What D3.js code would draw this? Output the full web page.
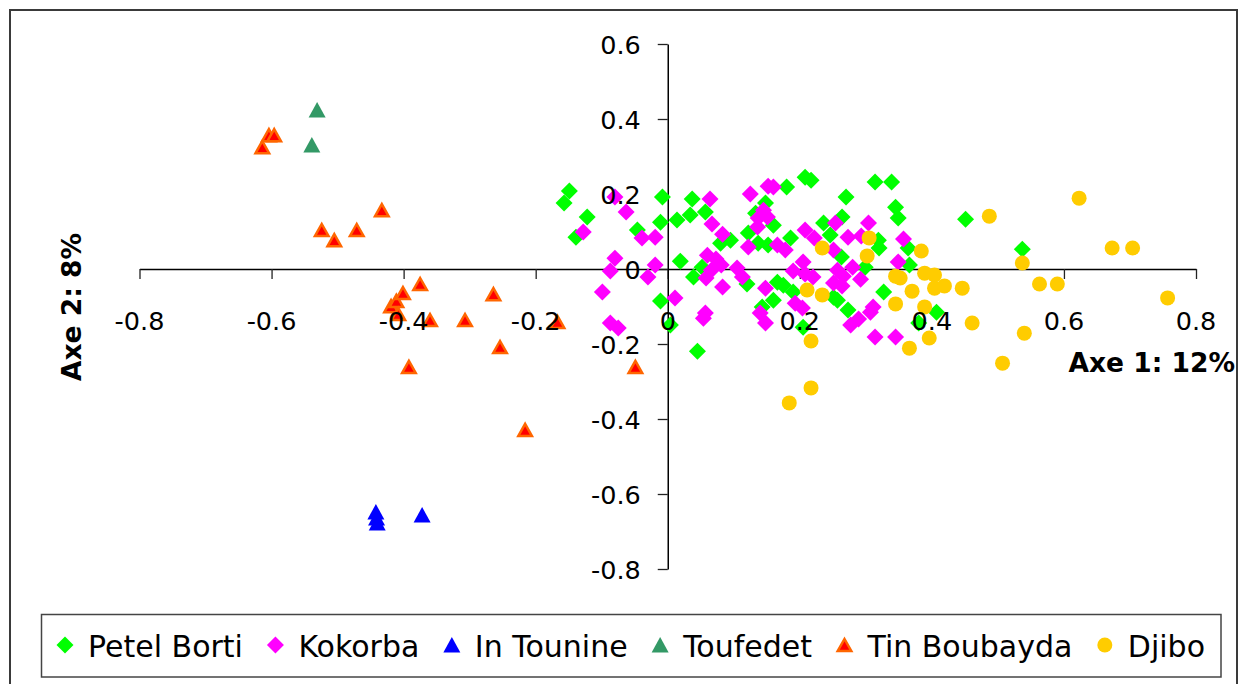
<!DOCTYPE html>
<html>
<head>
<meta charset="utf-8">
<script src="https://cdn.jsdelivr.net/npm/d3@7"></script>
<style>
  body { margin: 0; background: #fff; }
  svg { display: block; }
</style>
</head>
<body>
<svg width="1239" height="684"></svg>
<script>
// tick values
var xTicks = [-0.8, -0.6, -0.4, -0.2, 0, 0.2, 0.4, 0.6, 0.8];
var yTicks = [0.6, 0.4, 0.2, 0, -0.2, -0.4, -0.6, -0.8];

var xTitle = "Axe 1: 12%";
var yTitle = "Axe 2: 8%";

// points, [axe1, axe2]
var petelBorti = [
  [-0.149, 0.208], [-0.157, 0.176], [-0.122, 0.139], [-0.139, 0.085], [-0.008, 0.192],
  [-0.011, 0.125], [-0.046, 0.104], [0.037, 0.187], [0.034, 0.144], [0.014, 0.131],
  [0.057, 0.152], [0.208, 0.245], [0.217, 0.237], [0.180, 0.219], [0.148, 0.176],
  [0.133, 0.149], [0.160, 0.117], [0.122, 0.096], [0.095, 0.077], [0.080, 0.069],
  [0.137, 0.069], [0.152, 0.064], [0.186, 0.083], [0.236, 0.123], [0.246, 0.091],
  [0.019, 0.021], [0.039, -0.021], [0.052, 0.005], [0.120, -0.040], [0.166, -0.035],
  [0.175, -0.043], [0.190, -0.061], [0.160, -0.083], [0.251, -0.075], [0.143, -0.101],
  [0.205, -0.155], [-0.011, -0.085], [0.004, -0.149], [0.045, -0.219], [0.314, 0.232],
  [0.339, 0.232], [0.270, 0.192], [0.345, 0.165], [0.349, 0.136], [0.264, 0.139],
  [0.451, 0.133], [0.537, 0.053], [0.319, 0.077], [0.320, 0.056], [0.364, 0.056],
  [0.366, 0.011], [0.263, 0.032], [0.299, 0.005], [0.327, -0.061], [0.257, -0.083],
  [0.273, -0.109], [0.407, -0.115], [0.380, -0.144]
];

var kokorba = [
  [-0.080, 0.192], [-0.063, 0.152], [-0.128, 0.099], [-0.039, 0.083], [-0.019, 0.085],
  [-0.080, 0.029], [-0.087, -0.005], [-0.019, 0.011], [-0.030, -0.021], [-0.099, -0.061],
  [0.011, -0.077], [-0.087, -0.144], [-0.075, -0.157], [0.064, 0.187], [0.067, 0.120],
  [0.083, 0.093], [0.125, 0.200], [0.152, 0.221], [0.160, 0.219], [0.145, 0.157],
  [0.137, 0.136], [0.136, 0.112], [0.151, 0.139], [0.122, 0.059], [0.166, 0.064],
  [0.178, 0.051], [0.208, 0.104], [0.222, 0.083], [0.060, 0.037], [0.073, 0.027],
  [0.066, -0.003], [0.081, 0.011], [0.105, 0.003], [0.113, -0.021], [0.083, -0.048],
  [0.058, -0.024], [0.148, -0.051], [0.190, -0.005], [0.205, 0.019], [0.208, -0.013],
  [0.220, -0.021], [0.193, -0.091], [0.204, -0.104], [0.140, -0.117], [0.148, -0.144],
  [0.057, -0.117], [0.054, -0.131], [0.254, 0.123], [0.251, -0.037], [0.257, -0.003],
  [0.304, 0.123], [0.273, 0.085], [0.293, 0.088], [0.357, 0.080], [0.251, 0.051],
  [0.349, 0.019], [0.280, 0.005], [0.266, -0.019], [0.292, -0.027], [0.264, -0.045],
  [0.311, -0.101], [0.307, -0.115], [0.289, -0.133], [0.277, -0.149], [0.314, -0.181],
  [0.345, -0.181]
];

var inTounine = [
  [-0.442, -0.648], [-0.441, -0.664], [-0.440, -0.677], [-0.372, -0.656]
];

var toufedet = [
  [-0.531, 0.424], [-0.539, 0.331]
];

var tinBoubayda = [
  [-0.614, 0.325], [-0.604, 0.357], [-0.596, 0.357], [-0.524, 0.104], [-0.505, 0.077],
  [-0.471, 0.104], [-0.433, 0.157], [-0.419, -0.099], [-0.411, -0.085], [-0.401, -0.064],
  [-0.375, -0.040], [-0.408, -0.120], [-0.360, -0.136], [-0.307, -0.136], [-0.264, -0.067],
  [-0.254, -0.208], [-0.392, -0.261], [-0.216, -0.429], [-0.167, -0.141], [-0.049, -0.261]
];

var djibo = [
  [0.487, 0.141], [0.623, 0.189], [0.673, 0.056], [0.704, 0.056], [0.537, 0.016],
  [0.384, 0.048], [0.305, 0.083], [0.302, 0.035], [0.234, 0.056], [0.345, -0.019],
  [0.352, -0.024], [0.389, -0.011], [0.404, -0.016], [0.404, -0.051], [0.419, -0.045],
  [0.446, -0.051], [0.370, -0.059], [0.563, -0.040], [0.590, -0.040], [0.757, -0.077],
  [0.211, -0.056], [0.234, -0.069], [0.345, -0.093], [0.389, -0.101], [0.461, -0.144],
  [0.540, -0.171], [0.396, -0.184], [0.366, -0.211], [0.507, -0.251], [0.217, -0.192],
  [0.217, -0.317], [0.184, -0.357]
];

var series = [
  { name: "Petel Borti", values: petelBorti, shape: "diamond", fill: "#00ff00" },
  { name: "Kokorba", values: kokorba, shape: "diamond", fill: "#ff00ff" },
  { name: "In Tounine", values: inTounine, shape: "triangle", fill: "#0000ff" },
  { name: "Toufedet", values: toufedet, shape: "triangle", fill: "#339966" },
  { name: "Tin Boubayda", values: tinBoubayda, shape: "triangleEdge", fill: "#ff0000", stroke: "#ff6600" },
  { name: "Djibo", values: djibo, shape: "circle", fill: "#ffcc00" }
];

var svg = d3.select("svg");

var x = d3.scaleLinear().domain([-0.8, 0.8]).range([139.5, 1196]);
var y = d3.scaleLinear().domain([-0.8, 0.6]).range([569, 44]);

var shapes = {
  diamond: "M0,-8.5L8.5,0L0,8.5L-8.5,0Z",
  triangle: "M0,-8L8.5,7.5L-8.5,7.5Z",
  triangleEdge: "M0,-6L6.8,6L-6.8,6Z"
};

function drawMarker(sel, s) {
  if (s.shape == "circle") {
    sel.append("circle").attr("r", 7.5).attr("fill", s.fill);
  } else {
    sel.append("path")
      .attr("d", shapes[s.shape])
      .attr("fill", s.fill)
      .attr("stroke", s.stroke || "none")
      .attr("stroke-width", s.stroke ? 2.5 : 0);
  }
}

// outer frame
svg.append("rect")
  .attr("x", 10).attr("y", 10)
  .attr("width", 1227).attr("height", 700)
  .attr("fill", "none")
  .attr("stroke", "#3a3a3a")
  .attr("stroke-width", 2);

// axes lines + ticks
var xAxisG = svg.append("g")
  .attr("transform", "translate(0," + y(0) + ")")
  .call(d3.axisBottom(x).tickValues(xTicks).tickSize(10).tickSizeOuter(0).tickFormat(function(d){ return String(d); }));

var yAxisG = svg.append("g")
  .attr("transform", "translate(" + x(0) + ",0)")
  .call(d3.axisLeft(y).tickValues(yTicks).tickSize(10).tickSizeOuter(0).tickFormat(function(d){ return String(d); }));

[xAxisG, yAxisG].forEach(function(g){
  g.select(".domain").attr("stroke", "#000").attr("stroke-width", 1.5);
  g.selectAll(".tick line").attr("stroke", "#222").attr("stroke-width", 1.3);
  g.selectAll("text").remove();
});

// points
series.forEach(function(s){
  svg.append("g").selectAll("g")
    .data(s.values)
    .enter().append("g")
    .attr("transform", function(d){ return "translate(" + x(d[0]) + "," + y(d[1]) + ")"; })
    .each(function(){ drawMarker(d3.select(this), s); });
});

// tick labels (drawn on top, like the original)
var labelFont = "'DejaVu Sans', Verdana, sans-serif";

svg.append("g").selectAll("text")
  .data(xTicks)
  .enter().append("text")
  .attr("x", function(d){ return x(d); })
  .attr("y", y(0) + 61)
  .attr("text-anchor", "middle")
  .attr("font-family", labelFont)
  .attr("font-size", "25.5px")
  .text(function(d){ return String(d); });

svg.append("g").selectAll("text")
  .data(yTicks)
  .enter().append("text")
  .attr("x", x(0) - 27)
  .attr("y", function(d){ return y(d) + 10; })
  .attr("text-anchor", "end")
  .attr("font-family", labelFont)
  .attr("font-size", "25.5px")
  .text(function(d){ return String(d); });

// axis titles
var titleFont = "'Comic Sans MS', 'DejaVu Sans', sans-serif";

svg.append("text")
  .attr("x", 1235)
  .attr("y", 372)
  .attr("text-anchor", "end")
  .attr("font-family", titleFont)
  .attr("font-weight", "bold")
  .attr("font-size", "26.5px")
  .text(xTitle);

svg.append("text")
  .attr("transform", "translate(81,307) rotate(-90)")
  .attr("text-anchor", "middle")
  .attr("font-family", titleFont)
  .attr("font-weight", "bold")
  .attr("font-size", "26.5px")
  .text(yTitle);

// legend
svg.append("rect")
  .attr("x", 41.5).attr("y", 614.5)
  .attr("width", 1179.5).attr("height", 62.5)
  .attr("fill", "#fff")
  .attr("stroke", "#444")
  .attr("stroke-width", 1.5);

var legendStart = 65, legendEnd = 1205, markerGap = 23;

var items = series.map(function(s){
  var item = svg.append("g");
  var mk = item.append("g");
  drawMarker(mk, s);
  var t = item.append("text")
    .attr("y", 657)
    .attr("font-family", titleFont)
    .attr("font-size", "30px")
    .text(s.name);
  return { mk: mk, t: t, w: t.node().getComputedTextLength() };
});

var used = d3.sum(items, function(d){ return markerGap + d.w; });
var gap = (legendEnd - legendStart - used) / (items.length - 1);
var cursor = legendStart;
items.forEach(function(d){
  d.mk.attr("transform", "translate(" + cursor + ",645)");
  d.t.attr("x", cursor + markerGap);
  cursor = cursor + markerGap + d.w + gap;
});
</script>
</body>
</html>
